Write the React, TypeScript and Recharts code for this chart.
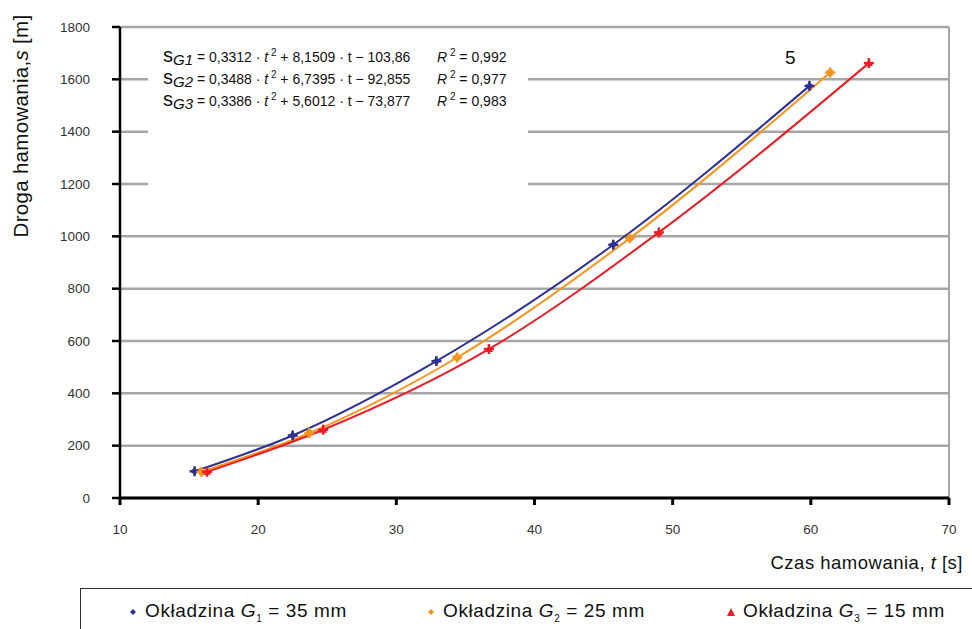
import { ComposedChart, Line, XAxis, YAxis, CartesianGrid, ReferenceLine } from 'recharts'

const timeTicks = [10, 20, 30, 40, 50, 60, 70]
const distanceTicks = [0, 200, 400, 600, 800, 1000, 1200, 1400, 1600, 1800]

// Okładzina G1 = 35 mm
const g1Time = [15.4, 22.5, 32.9, 45.7, 59.9]
const g1Dist = [102, 239, 523, 968, 1575]
// Okładzina G2 = 25 mm
const g2Time = [15.9, 23.7, 34.4, 46.9, 61.4]
const g2Dist = [100, 248, 537, 993, 1626]
// Okładzina G3 = 15 mm
const g3Time = [16.3, 24.7, 36.7, 49.0, 64.2]
const g3Dist = [100, 261, 569, 1015, 1662]

const BLUE = '#2E3192'
const ORANGE = '#F7941D'
const RED = '#ED1C24'
const FONT = '"Liberation Sans", Arial, sans-serif'

const toRows = (t: number[], s: number[]) => t.map((v, i) => ({ t: v, s: s[i] }))

const makeDot = (color: string, kind: 'diamond' | 'circle' | 'triangle') => (props: any) => {
  const { cx, cy, index } = props
  if (cx == null || cy == null) return null
  let mark
  if (kind === 'diamond') {
    mark = <path d={`M${cx},${cy - 4} L${cx + 4},${cy} L${cx},${cy + 4} L${cx - 4},${cy} Z`} fill={color} />
  } else if (kind === 'circle') {
    mark = <circle cx={cx} cy={cy} r={3.5} fill={color} />
  } else {
    mark = <path d={`M${cx},${cy - 4} L${cx + 4},${cy + 3} L${cx - 4},${cy + 3} Z`} fill={color} />
  }
  return (
    <g key={`${kind}-${index}`}>
      <line x1={cx - 5} x2={cx + 5} y1={cy} y2={cy} stroke={color} strokeWidth={2.5} />
      <line x1={cx} x2={cx} y1={cy - 5} y2={cy + 5} stroke={color} strokeWidth={2.5} />
      {mark}
    </g>
  )
}

const Equation = ({ sub, a, b, c, r2 }: { sub: string; a: string; b: string; c: string; r2: string }) => (
  <div style={{ display: 'flex', height: 22, alignItems: 'baseline', whiteSpace: 'nowrap' }}>
    <span style={{ width: 274 }}>
      <span style={{ fontSize: 20 }}>s</span>
      <sub style={{ fontSize: 15, fontStyle: 'italic', verticalAlign: -3 }}>{sub}</sub>
      {` = ${a} · `}<i>t</i>
      <sup style={{ fontSize: 10, verticalAlign: 6 }}> 2</sup>
      {` + ${b} · t  − ${c}`}
    </span>
    <span>
      <i>R</i>
      <sup style={{ fontSize: 10, verticalAlign: 6 }}> 2</sup>
      {` = ${r2}`}
    </span>
  </div>
)

const LegendItem = ({ color, kind, sub, value }: { color: string; kind: string; sub: string; value: string }) => (
  <div style={{ display: 'flex', alignItems: 'center' }}>
    <svg width={12} height={12} style={{ marginRight: 6 }}>
      {kind === 'triangle' ? (
        <path d="M6,2 L10,10 L2,10 Z" fill={color} />
      ) : (
        <path d="M6,3 L9,6 L6,9 L3,6 Z" fill={color} />
      )}
    </svg>
    <span>
      Okładzina <i>G</i>
      <sub style={{ fontSize: 10 }}>{sub}</sub> = {value} mm
    </span>
  </div>
)

export default function App() {
  return (
    <div style={{ position: 'absolute', left: 0, top: 0, width: 972, height: 629, background: '#fff', fontFamily: FONT, overflow: 'hidden' }}>
      <ComposedChart width={972} height={629} margin={{ top: 27, right: 23, bottom: 101, left: 60 }}>
        <CartesianGrid horizontal vertical={false} stroke="#A6A6A6" strokeWidth={2.5} />
        <XAxis
          type="number"
          dataKey="t"
          domain={[10, 70]}
          ticks={timeTicks}
          allowDataOverflow
          height={30}
          stroke="#000"
          strokeWidth={3}
          tickSize={7}
          tickMargin={19}
          tick={{ fill: '#333', fontSize: 13.5, fontFamily: FONT }}
        />
        <YAxis
          type="number"
          dataKey="s"
          domain={[0, 1800]}
          ticks={distanceTicks}
          width={60}
          stroke="#000"
          strokeWidth={2.5}
          tickSize={8}
          tickMargin={22}
          tick={{ fill: '#333', fontSize: 13.5, fontFamily: FONT }}
        />
        <ReferenceLine x={70} stroke="#A6A6A6" strokeWidth={2} />
        <Line
          data={toRows(g1Time, g1Dist)}
          dataKey="s"
          type="monotone"
          stroke={BLUE}
          strokeWidth={2}
          dot={makeDot(BLUE, 'diamond')}
          isAnimationActive={false}
        />
        <Line
          data={toRows(g2Time, g2Dist)}
          dataKey="s"
          type="monotone"
          stroke={ORANGE}
          strokeWidth={2}
          dot={makeDot(ORANGE, 'circle')}
          isAnimationActive={false}
        />
        <Line
          data={toRows(g3Time, g3Dist)}
          dataKey="s"
          type="monotone"
          stroke={RED}
          strokeWidth={2}
          dot={makeDot(RED, 'triangle')}
          isAnimationActive={false}
        />
      </ComposedChart>

      {/* y axis title */}
      <div style={{ position: 'absolute', left: 21, top: 126, transform: 'translate(-50%, -50%) rotate(-90deg)', fontSize: 20.5, letterSpacing: 0.3, whiteSpace: 'nowrap', color: '#111' }}>
        Droga hamowania,<i>s</i> [m]
      </div>

      {/* x axis title */}
      <div style={{ position: 'absolute', right: 9, top: 552, fontSize: 18.5, letterSpacing: 0.5, whiteSpace: 'nowrap', color: '#111' }}>
        Czas hamowania, <i>t</i> [s]
      </div>

      {/* fitted equations */}
      <div style={{ position: 'absolute', left: 148, top: 42, width: 380, height: 150, padding: '2px 0 0 15px', boxSizing: 'border-box', background: '#fff', fontSize: 14, color: '#111' }}>
        <Equation sub="G1" a="0,3312" b="8,1509" c="103,86" r2="0,992" />
        <Equation sub="G2" a="0,3488" b="6,7395" c="92,855" r2="0,977" />
        <Equation sub="G3" a="0,3386" b="5,6012" c="73,877" r2="0,983" />
      </div>

      <div style={{ position: 'absolute', left: 785, top: 47, fontSize: 19, color: '#111' }}>5</div>

      {/* legend */}
      <div style={{ position: 'absolute', left: 80, top: 588, width: 900, height: 48, border: '1px solid #333', boxSizing: 'border-box', display: 'flex', alignItems: 'center', fontSize: 19, letterSpacing: 0.6, color: '#111' }}>
        <div style={{ position: 'absolute', left: 46 }}>
          <LegendItem color={BLUE} kind="diamond" sub="1" value="35" />
        </div>
        <div style={{ position: 'absolute', left: 344 }}>
          <LegendItem color={ORANGE} kind="diamond" sub="2" value="25" />
        </div>
        <div style={{ position: 'absolute', left: 644 }}>
          <LegendItem color={RED} kind="triangle" sub="3" value="15" />
        </div>
      </div>
    </div>
  )
}
